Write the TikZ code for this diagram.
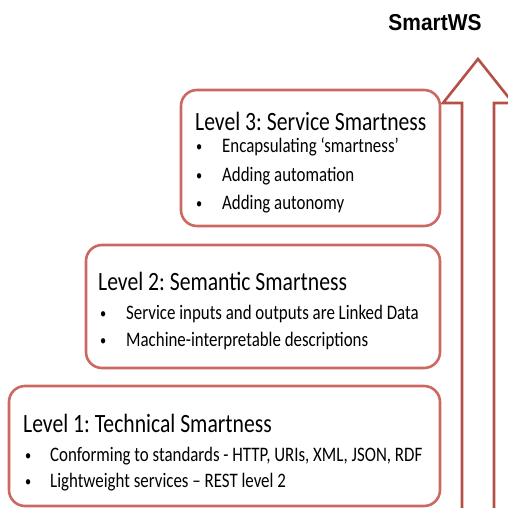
\documentclass[tikz,border=0pt]{standalone}
\usepackage{fontspec}
\setmainfont{Carlito}
\newfontfamily\levelfont[FakeStretch=0.82,Ligatures=TeX]{Carlito}
\newfontfamily\wsfont[FakeStretch=0.91]{Liberation Sans}
\usetikzlibrary{positioning}
\frenchspacing

\definecolor{levelred}{RGB}{204,104,98}
\definecolor{arrowred}{RGB}{180,80,70}

\tikzset{
  levelbox/.style={draw=levelred, line width=2.6pt, rounded corners=16pt},
  leveltitle/.style={anchor=base west, inner sep=0pt, font=\levelfont\fontsize{26.4}{30}\selectfont},
  levelitem/.style={anchor=base west, inner sep=0pt, font=\levelfont\fontsize{20.6}{24}\selectfont},
  levelbullet/.style={anchor=base west, inner sep=0pt, font=\levelfont\fontsize{15}{18}\selectfont},
}

\begin{document}
\begin{tikzpicture}[x=1pt,y=-1pt]
	\useasboundingbox (0,0) rectangle (508,508);
	\clip (0,0) rectangle (508,508);
	% arrow
	\draw[arrowred, line width=2.6pt, fill=white] (462,520)--(462,103)--(443,103)--(478,59)--(513,103)--(494,103)--(494,520);
	\node[font=\wsfont\bfseries\fontsize{23}{26}\selectfont, inner sep=0pt] (ws) at (435,23) {SmartWS};
	% boxes
	\draw[levelbox] (181,90) rectangle (440,226);
	\draw[levelbox] (86,245) rectangle (440,368);
	\draw[levelbox] (9,386) rectangle (440,506);
	% level 3
	\node[leveltitle] (t3) at (195,130) {Level 3: Service Smartness};
	\foreach \y/\txt in {152.5/Encapsulating `smartness', 181/Adding automation, 209/Adding autonomy}
		{\node[levelbullet] at (196,\y-1) {\textbullet}; \node[levelitem] at (222,\y) {\txt};}
	% level 2
	\node[leveltitle] (t2) at (98,290) {Level 2: Semantic Smartness};
	\foreach \y/\txt in {319/Service inputs and outputs are Linked Data, 346/Machine-interpretable descriptions}
		{\node[levelbullet] at (100,\y-1) {\textbullet}; \node[levelitem] at (126,\y) {\txt};}
	% level 1
	\node[leveltitle] (t1) at (23,432) {Level 1: Technical Smartness};
	\foreach \y/\txt in {461/{Conforming to standards - HTTP, URIs, XML, JSON, RDF}, 487/Lightweight services -- REST level 2}
		{\node[levelbullet] at (25,\y-1) {\textbullet}; \node[levelitem] at (50,\y) {\txt};}
\end{tikzpicture}
\end{document}
